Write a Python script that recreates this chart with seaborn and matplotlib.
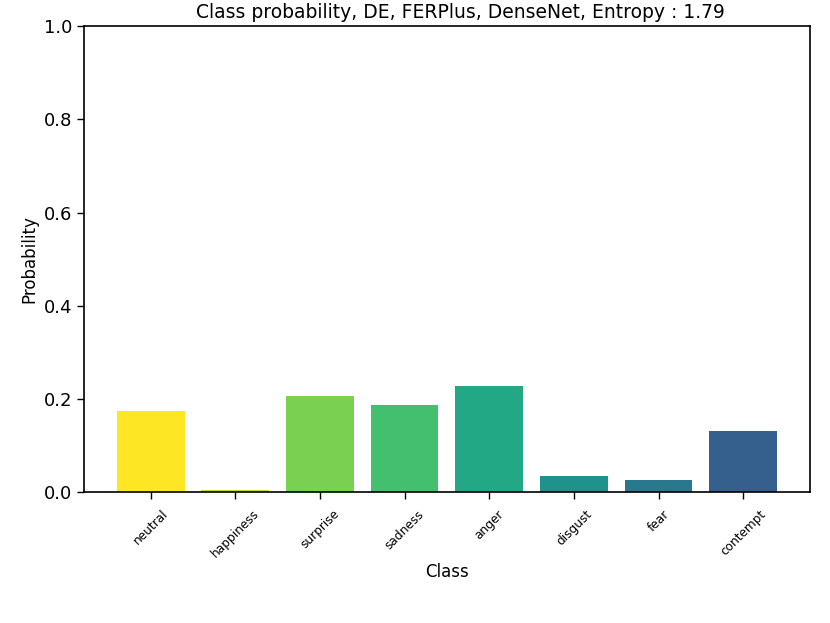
import matplotlib
matplotlib.use("Agg")
import matplotlib.pyplot as plt
from matplotlib.colors import to_hex
import seaborn as sns
import numpy as np
import pandas as pd

# Klassen und Wahrscheinlichkeiten
classes = ["neutral", "happiness", "surprise", "sadness", "anger", "disgust", "fear", "contempt"]
probs = [0.175, 0.004, 0.206, 0.188, 0.228, 0.035, 0.027, 0.132]
entropy = 1.79

df = pd.DataFrame({"Class": classes, "Probability": probs})

# viridis von 1.0 abwärts in 0.1-Schritten
colors = [to_hex(plt.cm.viridis(v)) for v in np.linspace(1.0, 0.3, len(classes))]

sns.set_style("ticks")
plt.rcParams['font.family'] = ['DejaVu Sans']
plt.rcParams['text.color'] = 'black'
plt.rcParams['axes.labelcolor'] = 'black'
plt.rcParams['xtick.color'] = 'black'
plt.rcParams['ytick.color'] = 'black'

fig, ax = plt.subplots(figsize=(8.3, 6.23), dpi=100)

sns.barplot(
    data=df,
    x="Class",
    y="Probability",
    hue="Class",
    palette=colors,
    saturation=1,
    width=0.8,
    linewidth=0,
    legend=False,
    ax=ax
)

ax.set_xlim(-0.79, 7.79)
ax.set_ylim(0, 1.0)
ax.set_title("Class probability, DE, FERPlus, DenseNet, Entropy : %.2f" % entropy,
             fontsize=13.5, color="black", x=0.519)
ax.set_xlabel("Class", fontsize=12, labelpad=2)
ax.set_ylabel("Probability", fontsize=12)
ax.tick_params(axis="y", labelsize=13, length=5, width=1, colors="black")
ax.tick_params(axis="x", labelsize=8.7, length=5, width=1, pad=6, colors="black")
plt.setp(ax.get_xticklabels(), rotation=45)
for s in ax.spines.values():
    s.set_visible(True)
    s.set_color("black")
    s.set_linewidth(1.2)

plt.subplots_adjust(left=0.101, right=0.976, top=0.958, bottom=0.21)
plt.savefig("out.png", dpi=100)
plt.close()
